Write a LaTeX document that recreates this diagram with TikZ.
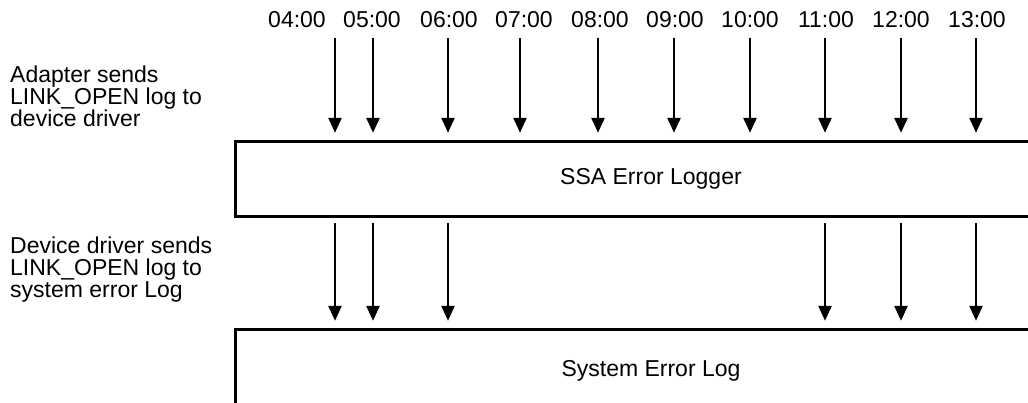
\documentclass[tikz,border=0pt]{standalone}
\usepackage{fontspec}
\setmainfont{Liberation Sans}
\usetikzlibrary{arrows.meta}
\begin{document}
\begin{tikzpicture}[x=1pt,y=-1pt,font=\fontsize{23}{22}\selectfont,
   boxline/.style={line width=2.8pt},
   logarrow/.style={line width=2.6pt,-{Triangle[length=15pt,width=13pt]}},
   sidetext/.style={anchor=base west,align=left,inner sep=0pt}]
\fill[white] (0,0) rectangle (1028,402);
\useasboundingbox (0,0) rectangle (1028,402);
\clip (0,0) rectangle (1028,402);
% the two log boxes, both open to the right
\node[minimum width=830,minimum height=74] (ssa) at (651,179) {SSA Error Logger};
\node[minimum width=830,minimum height=82] (elog) at (651,371) {System Error Log};
\draw[boxline] (ssa.north east) -- (ssa.north west) -- (ssa.south west) -- (ssa.south east);
\draw[boxline] (elog.north east) -- (elog.north west) -- (elog.south west);
% hour labels and the logs sent to the adapter's error logger
\foreach \t/\lx/\ax in {04/297/335,05/372/373,06/449/448,07/524/520,08/600/598,
   09/675/674,10/750/750,11/826/825,12/901/901,13/977/976}{
  \node (t\t) at (\lx,20) {\t:00};
  \coordinate (a\t) at (\ax,38);
  \draw[logarrow,shorten >=9pt] (a\t) -- (a\t |- ssa.north);}
% logs passed on to the system error log
\foreach \t in {04,05,06,11,12,13}
  \draw[logarrow,shorten <=7pt,shorten >=9pt] (a\t |- ssa.south) -- (a\t |- elog.north);
% explanations on the left (anchored at the last line)
\node[sidetext] (adapter) at (10,126) {Adapter sends\\LINK\_OPEN log to\\device driver};
\node[sidetext] (driver) at (10,297) {Device driver sends\\LINK\_OPEN log to\\system error Log};
\end{tikzpicture}
\end{document}
